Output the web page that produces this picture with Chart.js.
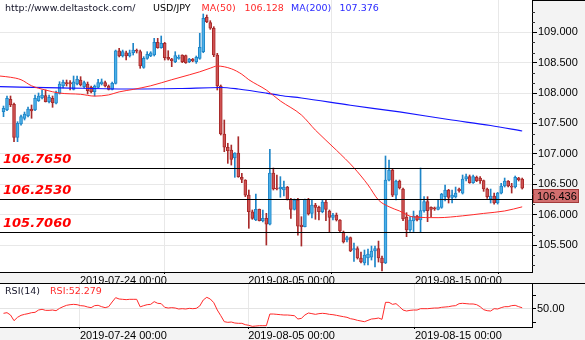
<!DOCTYPE html>
<html>
<head>
<meta charset="utf-8">
<title>USD/JPY H4</title>
<script src="https://cdn.jsdelivr.net/npm/chart.js@4.4.1/dist/chart.umd.min.js"></script>
<style>
  html, body { margin: 0; padding: 0; background: #ffffff; }
  #wrap { position: relative; width: 585px; height: 340px; overflow: hidden; }
  #priceChart { position: absolute; left: 0; top: 0; }
  #rsiChart { position: absolute; left: 0; top: 283px; }
</style>
</head>
<body>
<div id="wrap">
  <canvas id="priceChart" width="585" height="283"></canvas>
  <canvas id="rsiChart" width="585" height="57"></canvas>
</div>
<script>
// USD/JPY 4h candles, 18 Jul - 20 Aug 2019
var opens = [107.693, 107.721, 107.898, 107.815, 107.272, 107.491, 107.585, 107.623, 107.738, 107.721,
  107.876, 107.919, 107.957, 107.858, 107.914, 107.832, 107.996, 108.116, 108.171, 108.171,
  108.062, 108.149, 108.215, 108.105, 108.149, 108.095, 108.023, 108.095, 108.149, 108.171,
  108.116, 108.062, 108.160, 108.697, 108.610, 108.664, 108.610, 108.664, 108.704, 108.681,
  108.424, 108.572, 108.610, 108.626, 108.835, 108.747, 108.819, 108.589, 108.560, 108.516,
  108.572, 108.626, 108.615, 108.516, 108.556, 108.516, 108.572, 108.681, 109.247, 109.158,
  109.066, 108.626, 108.116, 107.326, 107.108, 107.063, 106.932, 107.014, 106.614, 106.569,
  106.322, 106.048, 105.911, 106.087, 105.900, 105.939, 105.845, 106.685, 106.438, 106.421,
  106.405, 106.454, 106.251, 106.087, 106.240, 105.829, 105.802, 106.251, 106.021, 106.158,
  106.120, 106.048, 106.207, 106.059, 105.955, 105.993, 105.911, 105.714, 105.582, 105.622,
  105.418, 105.440, 105.286, 105.204, 105.286, 105.302, 105.401, 105.440, 105.286, 105.204,
  106.569, 106.734, 106.322, 106.553, 106.421, 105.960, 105.747, 105.895, 105.977, 105.911,
  106.065, 106.213, 106.120, 106.110, 106.087, 106.120, 106.295, 106.405, 106.284, 106.290,
  106.421, 106.355, 106.586, 106.625, 106.526, 106.614, 106.600, 106.559, 106.421, 106.257,
  106.306, 106.191, 106.355, 106.471, 106.553, 106.471, 106.454, 106.600, 106.586];
var highs = [107.787, 107.952, 107.952, 107.837, 107.529, 107.639, 107.688, 107.771, 107.804, 107.968,
  108.001, 108.051, 108.051, 107.968, 107.952, 108.034, 108.187, 108.215, 108.215, 108.204,
  108.281, 108.281, 108.270, 108.199, 108.182, 108.116, 108.133, 108.227, 108.232, 108.199,
  108.133, 108.182, 108.708, 108.737, 108.708, 108.692, 108.708, 108.819, 108.725, 108.708,
  108.599, 108.681, 108.681, 108.901, 108.901, 108.939, 108.835, 108.697, 108.572, 108.681,
  108.626, 108.630, 108.626, 108.572, 108.570, 108.610, 108.984, 109.301, 109.285, 109.191,
  109.092, 108.654, 108.133, 107.557, 107.174, 107.145, 107.019, 107.282, 106.679, 106.575,
  106.405, 106.076, 106.339, 106.092, 106.076, 106.021, 107.074, 106.767, 106.652, 106.625,
  106.553, 106.465, 106.268, 106.257, 106.268, 105.966, 106.257, 106.268, 106.240, 106.186,
  106.141, 106.240, 106.240, 106.076, 106.021, 106.026, 105.920, 105.730, 105.648, 105.632,
  105.533, 105.472, 105.385, 105.418, 105.434, 105.483, 105.483, 105.565, 105.319, 106.965,
  106.899, 106.745, 106.569, 106.569, 106.438, 106.032, 105.966, 106.059, 105.988, 106.767,
  106.295, 106.295, 106.130, 106.125, 106.240, 106.350, 106.487, 106.416, 106.405, 106.454,
  106.438, 106.652, 106.668, 106.652, 106.652, 106.635, 106.625, 106.569, 106.438, 106.421,
  106.355, 106.366, 106.515, 106.602, 106.560, 106.515, 106.635, 106.614, 106.602];
var lows = [107.612, 107.710, 107.776, 107.200, 107.200, 107.474, 107.557, 107.606, 107.585, 107.710,
  107.862, 107.902, 107.853, 107.837, 107.766, 107.820, 107.985, 108.083, 108.116, 108.051,
  108.051, 108.133, 108.116, 108.083, 107.985, 108.001, 107.952, 108.083, 108.133, 108.100,
  108.051, 108.051, 108.149, 108.593, 108.593, 108.544, 108.593, 108.626, 108.659, 108.408,
  108.408, 108.556, 108.599, 108.610, 108.737, 108.737, 108.544, 108.544, 108.434, 108.500,
  108.556, 108.500, 108.489, 108.500, 108.515, 108.489, 108.556, 108.664, 109.158, 109.049,
  108.599, 108.051, 107.310, 107.035, 106.844, 106.816, 106.614, 106.614, 106.526, 106.295,
  105.775, 105.923, 105.900, 105.895, 105.878, 105.500, 105.829, 106.405, 106.405, 106.285,
  106.306, 106.240, 105.939, 106.076, 105.664, 105.483, 105.796, 105.993, 105.944, 105.923,
  105.911, 106.030, 105.900, 105.719, 105.911, 105.895, 105.714, 105.533, 105.549, 105.390,
  105.231, 105.269, 105.204, 105.171, 105.171, 105.253, 105.138, 105.220, 105.072, 105.194,
  106.553, 106.295, 106.240, 106.421, 105.900, 105.637, 105.722, 105.722, 105.895, 105.719,
  106.040, 105.884, 105.966, 106.070, 106.076, 106.104, 106.224, 106.191, 106.191, 106.273,
  106.370, 106.339, 106.553, 106.515, 106.515, 106.542, 106.515, 106.383, 106.268, 106.191,
  106.174, 106.174, 106.339, 106.454, 106.454, 106.355, 106.438, 106.553, 106.421];
var closes = [107.749, 107.914, 107.804, 107.272, 107.503, 107.612, 107.655, 107.738, 107.705, 107.914,
  107.952, 107.968, 107.858, 107.930, 107.842, 107.996, 108.149, 108.182, 108.149, 108.149,
  108.187, 108.227, 108.133, 108.171, 108.040, 108.023, 108.116, 108.171, 108.187, 108.116,
  108.062, 108.160, 108.697, 108.610, 108.681, 108.610, 108.664, 108.708, 108.688, 108.445,
  108.572, 108.638, 108.664, 108.835, 108.747, 108.819, 108.582, 108.556, 108.533, 108.615,
  108.589, 108.516, 108.500, 108.560, 108.528, 108.589, 108.753, 109.230, 109.174, 109.066,
  108.626, 108.116, 107.326, 107.108, 107.052, 106.910, 107.014, 106.625, 106.581, 106.322,
  106.048, 105.939, 106.087, 105.900, 105.939, 105.845, 106.685, 106.421, 106.421, 106.454,
  106.454, 106.251, 106.087, 106.240, 105.812, 105.802, 106.251, 106.010, 106.158, 106.120,
  106.048, 106.207, 106.087, 105.955, 105.993, 105.911, 105.730, 105.549, 105.622, 105.401,
  105.440, 105.286, 105.220, 105.335, 105.352, 105.401, 105.440, 105.286, 105.204, 106.569,
  106.734, 106.322, 106.553, 106.438, 105.928, 105.747, 105.911, 105.977, 105.911, 106.065,
  106.213, 106.065, 106.087, 106.092, 106.130, 106.339, 106.405, 106.284, 106.322, 106.355,
  106.394, 106.586, 106.625, 106.526, 106.625, 106.559, 106.559, 106.421, 106.295, 106.306,
  106.191, 106.355, 106.471, 106.553, 106.471, 106.450, 106.614, 106.575, 106.436];

// moving averages, sampled along the candle index
var ma50Idx = [-1, 2, 5, 8, 12, 16, 22, 26, 30, 33, 37, 42, 48, 53, 56, 59, 61, 65, 68, 70,
  75, 79, 85, 89, 95, 100, 104, 107, 110, 113, 117, 124, 131, 137, 143, 148];
var ma50 = [108.28, 108.26, 108.22, 108.12, 108.05, 108.00, 107.98, 107.95, 107.97, 108.02,
  108.06, 108.12, 108.22, 108.30, 108.35, 108.41, 108.445, 108.40, 108.31, 108.22,
  108.05, 107.87, 107.64, 107.39, 107.06, 106.77, 106.49, 106.24, 106.13, 106.06,
  105.96, 105.95, 105.98, 106.02, 106.06, 106.128];
var ma200Idx = [-1, 16, 37, 50, 62, 67, 75, 79, 85, 99, 113, 127, 139, 148];
var ma200 = [108.105, 108.087, 108.067, 108.075, 108.092, 108.067, 108.00, 107.96, 107.919, 107.80,
  107.69, 107.565, 107.466, 107.376];

var rsi = [42.0, 43.2, 38.9, 28.4, 34.6, 38.3, 40.1, 41.4, 43.2, 43.8,
  48.1, 49.4, 47.5, 47.5, 48.1, 46.9, 51.2, 54.3, 56.8, 58.0,
  58.6, 58.0, 56.2, 55.6, 53.7, 52.5, 56.2, 56.8, 54.3, 52.5,
  54.3, 63.0, 71.0, 68.5, 67.9, 67.3, 67.9, 67.9, 67.9, 54.0,
  56.2, 58.0, 58.6, 63.6, 60.5, 59.9, 53.1, 51.8, 52.5, 51.8,
  50.0, 50.6, 50.0, 51.2, 50.6, 51.2, 55.6, 66.7, 71.6, 68.5,
  61.7, 48.1, 37.6, 26.5, 25.3, 25.9, 24.1, 23.5, 23.5, 21.0,
  19.8, 17.9, 18.5, 19.1, 19.1, 19.1, 40.7, 40.7, 40.1, 39.5,
  38.9, 38.9, 38.3, 37.6, 31.5, 32.7, 38.9, 42.6, 41.4, 40.1,
  41.4, 42.0, 41.4, 40.1, 39.5, 38.3, 37.0, 35.8, 34.6, 32.1,
  30.9, 29.0, 27.8, 26.5, 29.0, 31.5, 32.1, 33.3, 30.9, 62.3,
  62.3, 58.6, 59.9, 54.3, 48.1, 46.3, 47.5, 48.1, 48.1, 50.6,
  50.6, 50.6, 51.2, 51.8, 51.8, 53.1, 53.7, 54.3, 55.6, 56.2,
  59.9, 60.5, 59.9, 59.3, 59.3, 58.0, 54.3, 48.8, 46.9, 46.3,
  50.6, 50.0, 52.5, 54.3, 54.3, 56.2, 56.8, 54.3, 52.279];

var levels = [106.765, 106.253, 105.706];
var priceTicks = [105.5, 106, 106.5, 107, 107.5, 108, 108.5, 109];
var rsiTicks = [25, 50, 75];
var dateTicks = [21.8, 69.8, 117.4];
var dateLabels = ['2019-07-24 00:00', '2019-08-05 00:00', '2019-08-15 00:00'];

var axisFont = { family: 'Liberation Sans', size: 11 };
var upFill = '#4cb0e8', upEdge = '#1f86c8';
var downFill = '#cf5252', downEdge = '#a82a2a';

var bodyFill = closes.map(function(c, i) { return c >= opens[i] ? upFill : downFill; });
var bodyEdge = closes.map(function(c, i) { return c >= opens[i] ? upEdge : downEdge; });

// grey margins, white plot area
var panelBg = {
  id: 'panelBg',
  beforeDraw: function(chart) {
    var c = chart.ctx, a = chart.chartArea;
    c.save();
    c.fillStyle = '#f3f3f3';
    c.fillRect(0, 0, chart.width, chart.height);
    c.fillStyle = '#ffffff';
    c.fillRect(a.left, a.top, a.right - a.left, a.bottom - a.top);
    c.restore();
  }
};

// support / resistance lines with their labels
var levelLines = {
  id: 'levelLines',
  afterDatasetsDraw: function(chart) {
    var c = chart.ctx, a = chart.chartArea, y = chart.scales.y;
    c.save();
    c.strokeStyle = '#000';
    c.lineWidth = 1;
    c.font = 'italic bold 13px "DejaVu Sans"';
    c.fillStyle = '#ff0000';
    c.textBaseline = 'alphabetic';
    levels.forEach(function(lv) {
      var py = Math.round(y.getPixelForValue(lv)) + 0.5;
      c.beginPath();
      c.moveTo(a.left, py);
      c.lineTo(a.right, py);
      c.stroke();
      c.fillText(lv.toFixed(4), a.left + 3, py - 5.5);
    });
    c.restore();
  }
};

// minor ticks on the price axis, 3 per 0.5
var minorTicks = {
  id: 'minorTicks',
  afterDraw: function(chart) {
    var c = chart.ctx, a = chart.chartArea, y = chart.scales.y;
    c.save();
    c.strokeStyle = '#333';
    c.lineWidth = 1;
    for (var k = Math.ceil((y.min - 109) * 6); k <= Math.floor((y.max - 109) * 6); k++) {
      if (k % 3 === 0) continue;
      var py = Math.round(y.getPixelForValue(109 + k / 6)) + 0.5;
      c.beginPath();
      c.moveTo(a.right, py);
      c.lineTo(a.right + 3, py);
      c.stroke();
    }
    // top edge of the axis panel
    c.strokeStyle = '#000';
    c.beginPath();
    c.moveTo(a.right, 0.5);
    c.lineTo(chart.width, 0.5);
    c.stroke();
    c.restore();
  }
};

var header = {
  id: 'header',
  afterDraw: function(chart) {
    var c = chart.ctx;
    c.save();
    c.font = '9.5px "DejaVu Sans"';
    c.textBaseline = 'middle';
    c.fillStyle = '#141428';
    c.fillText('http://www.deltastock.com/', 5, 8.5);
    c.fillStyle = '#000';
    c.fillText('USD/JPY', 153, 8.5);
    c.fillStyle = '#ff2a2a';
    c.fillText('MA(50)', 201.5, 8.5);
    c.fillText(ma50[ma50.length - 1].toFixed(3), 244.5, 8.5);
    c.fillStyle = '#2a2aff';
    c.fillText('MA(200)', 291, 8.5);
    c.fillText(ma200[ma200.length - 1].toFixed(3), 339.5, 8.5);
    c.restore();
  }
};

// last close marker on the price axis
var lastPrice = {
  id: 'lastPrice',
  afterDraw: function(chart) {
    var c = chart.ctx, a = chart.chartArea, y = chart.scales.y;
    var last = closes[closes.length - 1];
    var py = Math.round(y.getPixelForValue(last));
    c.save();
    c.fillStyle = 'rgba(206,96,96,0.9)';
    c.fillRect(a.right + 1, py + 1, 45, 13);
    c.strokeStyle = '#a33a3a';
    c.lineWidth = 1;
    c.strokeRect(a.right + 1.5, py + 1.5, 45, 13);
    c.fillStyle = '#000';
    c.font = '11px "Liberation Sans"';
    c.textBaseline = 'middle';
    c.fillText(last.toFixed(3), a.right + 5, py + 8.5);
    c.restore();
  }
};

var rsiTitle = {
  id: 'rsiTitle',
  afterDraw: function(chart) {
    var c = chart.ctx;
    c.save();
    c.strokeStyle = '#000';
    c.lineWidth = 1;
    c.beginPath();
    c.moveTo(0, 0.5);
    c.lineTo(chart.width, 0.5);
    c.stroke();
    c.font = '9.5px "DejaVu Sans"';
    c.textBaseline = 'middle';
    c.fillStyle = '#141428';
    c.fillText('RSI(14)', 5, 8.5);
    c.fillStyle = '#ff2a2a';
    c.fillText('RSI:' + rsi[rsi.length - 1].toFixed(3), 50, 8.5);
    c.restore();
  }
};

function dateAxis(h) {
  return {
    type: 'linear',
    min: -1,
    max: 150.8,
    offset: false,
    afterBuildTicks: function(s) { s.ticks = dateTicks.map(function(v) { return { value: v }; }); },
    afterFit: function(s) { s.height = h; s.paddingLeft = 0; s.paddingRight = 0; },
    ticks: {
      autoSkip: false, maxRotation: 0, align: 'start', padding: 0,
      font: axisFont, color: '#000',
      callback: function(v, i) { return dateLabels[i]; }
    },
    grid: { color: '#e8e8e8', tickColor: '#000', tickLength: 2 },
    border: { display: true, color: '#000' }
  };
}

new Chart(document.getElementById('priceChart'), {
  type: 'bar',
  data: {
    datasets: [
      {
        type: 'line', label: 'MA(50)',
        data: ma50Idx.map(function(x, i) { return { x: x, y: ma50[i] }; }),
        borderColor: '#ff2a2a', borderWidth: 1, pointRadius: 0,
        cubicInterpolationMode: 'monotone', order: 0
      },
      {
        type: 'line', label: 'MA(200)',
        data: ma200Idx.map(function(x, i) { return { x: x, y: ma200[i] }; }),
        borderColor: '#1414ff', borderWidth: 1.2, pointRadius: 0,
        cubicInterpolationMode: 'monotone', order: 0
      },
      {
        label: 'body',
        data: opens.map(function(o, i) { return { x: i, y: [o, closes[i]] }; }),
        backgroundColor: bodyFill, borderColor: bodyEdge, borderWidth: 1,
        borderSkipped: false, barThickness: 3, minBarLength: 1, grouped: false, order: 1
      },
      {
        label: 'wick',
        data: lows.map(function(l, i) { return { x: i, y: [l, highs[i]] }; }),
        backgroundColor: bodyEdge, barThickness: 1, grouped: false, order: 2
      }
    ]
  },
  options: {
    responsive: false,
    animation: false,
    layout: { padding: 0 },
    plugins: { legend: { display: false }, tooltip: { enabled: false } },
    scales: {
      x: dateAxis(11),
      y: {
        position: 'right',
        min: 105.056,
        max: 109.5315,
        afterBuildTicks: function(s) { s.ticks = priceTicks.map(function(v) { return { value: v }; }); },
        afterFit: function(s) { s.width = 53; s.paddingTop = 0; s.paddingBottom = 0; },
        ticks: { padding: 1, font: axisFont, color: '#000', callback: function(v) { return v.toFixed(3); } },
        grid: { color: '#e8e8e8', tickColor: '#000', tickLength: 5 },
        border: { display: true, color: '#000' }
      }
    }
  },
  plugins: [panelBg, levelLines, minorTicks, header, lastPrice]
});

new Chart(document.getElementById('rsiChart'), {
  type: 'line',
  data: {
    datasets: [{
      label: 'RSI(14)',
      data: rsi.map(function(v, i) { return { x: i, y: v }; }),
      borderColor: '#ff2a2a', borderWidth: 1, pointRadius: 0, tension: 0
    }]
  },
  options: {
    responsive: false,
    animation: false,
    layout: { padding: 0 },
    plugins: { legend: { display: false }, tooltip: { enabled: false } },
    scales: {
      x: dateAxis(13),
      y: {
        position: 'right',
        min: 16.7,
        max: 98.1,
        afterBuildTicks: function(s) { s.ticks = rsiTicks.map(function(v) { return { value: v }; }); },
        afterFit: function(s) { s.width = 53; s.paddingTop = 0; s.paddingBottom = 0; },
        ticks: {
          padding: 1, font: axisFont, color: '#000',
          callback: function(v) { return v === 50 ? v.toFixed(2) : ''; }
        },
        grid: {
          color: function(ctx) { return ctx.tick && ctx.tick.value === 50 ? '#e4e4e4' : 'rgba(0,0,0,0)'; },
          tickColor: '#000', tickLength: 4
        },
        border: { display: true, color: '#000' }
      }
    }
  },
  plugins: [panelBg, rsiTitle]
});
</script>
</body>
</html>
